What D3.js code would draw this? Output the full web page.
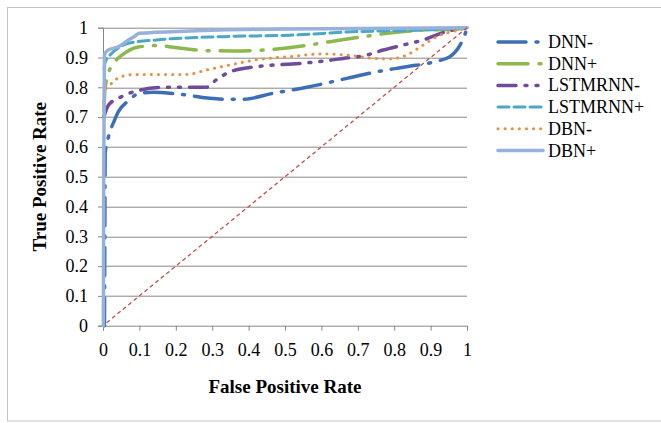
<!DOCTYPE html>
<html>
<head>
<meta charset="utf-8">
<script src="https://cdn.jsdelivr.net/npm/d3@7"></script>
<style>
  body { margin: 0; background: #fff; }
  text { font-family: "Liberation Serif", "Times New Roman", serif; fill: #000; }
</style>
</head>
<body>
<div id="chart"></div>
<script>
// ROC curves
var seriesNames = ["DNN-", "DNN+", "LSTMRNN-", "LSTMRNN+", "DBN-", "DBN+"];

var dnnMinusX = [0.004, 0.005, 0.006, 0.015, 0.03, 0.042, 0.07, 0.10, 0.138, 0.184, 0.23, 0.294, 0.34, 0.385, 0.468, 0.56, 0.67, 0.752, 0.834, 0.912, 0.953, 0.98, 0.995, 1];
var dnnMinusY = [0, 0.3, 0.58, 0.634, 0.685, 0.718, 0.755, 0.78, 0.783, 0.78, 0.774, 0.763, 0.76, 0.76, 0.78, 0.80, 0.83, 0.852, 0.869, 0.886, 0.903, 0.94, 0.98, 1];

var dnnPlusX = [0.003, 0.005, 0.015, 0.033, 0.065, 0.10, 0.147, 0.22, 0.285, 0.358, 0.44, 0.532, 0.624, 0.715, 0.807, 0.88, 0.97, 1];
var dnnPlusY = [0.72, 0.79, 0.847, 0.886, 0.919, 0.936, 0.94, 0.93, 0.923, 0.922, 0.925, 0.936, 0.953, 0.97, 0.985, 0.992, 0.995, 1];

var lstmMinusX = [0.002, 0.015, 0.05, 0.10, 0.166, 0.23, 0.284, 0.31, 0.349, 0.42, 0.54, 0.605, 0.66, 0.724, 0.77, 0.825, 0.88, 0.944, 1];
var lstmMinusY = [0.70, 0.74, 0.768, 0.79, 0.80, 0.80, 0.80, 0.824, 0.852, 0.869, 0.88, 0.888, 0.897, 0.908, 0.925, 0.942, 0.959, 0.987, 1];

var lstmPlusX = [0.003, 0.005, 0.024, 0.047, 0.07, 0.147, 0.33, 0.513, 0.70, 0.88, 1];
var lstmPlusY = [0.86, 0.88, 0.914, 0.936, 0.948, 0.959, 0.97, 0.975, 0.987, 0.992, 1];

var dbnMinusX = [0.002, 0.005, 0.019, 0.05, 0.092, 0.147, 0.23, 0.284, 0.349, 0.42, 0.513, 0.605, 0.687, 0.742, 0.788, 0.834, 0.88, 0.926, 0.97, 1];
var dbnMinusY = [0.75, 0.79, 0.808, 0.836, 0.843, 0.843, 0.843, 0.858, 0.875, 0.892, 0.903, 0.912, 0.906, 0.897, 0.895, 0.908, 0.942, 0.975, 0.99, 1];

var dbnPlusX = [0.001, 0.002, 0.004, 0.014, 0.042, 0.07, 0.088, 0.10, 0.24, 0.51, 1];
var dbnPlusY = [0, 0.5, 0.91, 0.925, 0.936, 0.959, 0.972, 0.981, 0.989, 0.996, 1];

// chance line
var diagX = [0.01, 1];
var diagY = [0.01, 1];

var xTicks = [0, 0.1, 0.2, 0.3, 0.4, 0.5, 0.6, 0.7, 0.8, 0.9, 1];
var yTicks = [0, 0.1, 0.2, 0.3, 0.4, 0.5, 0.6, 0.7, 0.8, 0.9, 1];

var svgWidth = 661;
var svgHeight = 423;

var margin = { top: 27.7, right: 194, bottom: 97.3, left: 103 };
var width = svgWidth - margin.left - margin.right;
var height = svgHeight - margin.top - margin.bottom;

var serif = "'Liberation Serif', 'Times New Roman', serif";

var svg = d3.select("#chart")
  .append("svg")
  .attr("width", svgWidth)
  .attr("height", svgHeight);

// outer frame (runs past the right edge)
svg.append("rect")
  .attr("x", 7.5)
  .attr("y", 7.5)
  .attr("width", 670)
  .attr("height", 413.5)
  .attr("fill", "none")
  .attr("stroke", "#c4c4c4")
  .attr("stroke-width", 1);

var chartGroup = svg.append("g")
  .attr("transform", `translate(${margin.left}, ${margin.top})`);

var xLinearScale = d3.scaleLinear().domain([0, 1]).range([0, width]);
var yLinearScale = d3.scaleLinear().domain([0, 1]).range([height, 0]);

// gridlines
chartGroup.append("g")
  .selectAll("line")
  .data(yTicks.slice(1))
  .join("line")
  .attr("x1", 0)
  .attr("x2", width)
  .attr("y1", d => Math.round(yLinearScale(d)) + 0.5)
  .attr("y2", d => Math.round(yLinearScale(d)) + 0.5)
  .attr("stroke", "#878787")
  .attr("stroke-width", 1);

// axes
var bottomAxis = d3.axisBottom(xLinearScale)
  .tickValues(xTicks)
  .tickSize(5)
  .tickPadding(13)
  .tickFormat(d => d3.format("")(d));
var leftAxis = d3.axisLeft(yLinearScale)
  .tickValues(yTicks)
  .tickSize(5)
  .tickPadding(10)
  .tickFormat(d => d3.format("")(d));

var xAxis = chartGroup.append("g")
  .attr("transform", `translate(0, ${height})`)
  .call(bottomAxis);
var yAxis = chartGroup.append("g")
  .call(leftAxis);

[xAxis, yAxis].forEach(function(ax) {
  ax.attr("font-family", serif).attr("font-size", 18);
  ax.select(".domain").attr("stroke", "#878787");
  ax.selectAll(".tick line").attr("stroke", "#878787");
  ax.selectAll(".tick text").attr("fill", "#000");
});

// series
var styles = [
  { color: "#3d6fb6", width: 3.5, dash: "28,10,2,10" },
  { color: "#8db84b", width: 3.5, dash: "30,11,2,11" },
  { color: "#6f4b9c", width: 3.5, dash: "18,9,2,9,2,9" },
  { color: "#4aa8c4", width: 3, dash: "11,5" },
  { color: "#f08c3e", width: 3, dash: "0.1,7" },
  { color: "#95b1dc", width: 3.5, dash: null }
];

var seriesX = [dnnMinusX, dnnPlusX, lstmMinusX, lstmPlusX, dbnMinusX, dbnPlusX];
var seriesY = [dnnMinusY, dnnPlusY, lstmMinusY, lstmPlusY, dbnMinusY, dbnPlusY];

var chartData = seriesNames.map(function(name, i) {
  return {
    name: name,
    style: styles[i],
    points: seriesX[i].map((x, j) => ({ fpr: x, tpr: seriesY[i][j] }))
  };
});

var line = d3.line()
  .x(d => xLinearScale(d.fpr))
  .y(d => yLinearScale(d.tpr))
  .curve(d3.curveMonotoneX);

chartGroup.append("g")
  .selectAll("path")
  .data(chartData)
  .join("path")
  .attr("d", d => line(d.points))
  .attr("fill", "none")
  .attr("stroke", d => d.style.color)
  .attr("stroke-width", d => d.style.width)
  .attr("stroke-dasharray", d => d.style.dash)
  .attr("stroke-linecap", "round")
  .attr("stroke-linejoin", "round");

// diagonal
chartGroup.append("path")
  .attr("d", d3.line()
    .x(d => xLinearScale(d.fpr))
    .y(d => yLinearScale(d.tpr))(diagX.map((x, j) => ({ fpr: x, tpr: diagY[j] }))))
  .attr("fill", "none")
  .attr("stroke", "#c0504d")
  .attr("stroke-width", 1.3)
  .attr("stroke-dasharray", "4,3");

// axis titles
svg.append("text")
  .attr("x", margin.left + width / 2)
  .attr("y", 393)
  .attr("text-anchor", "middle")
  .attr("font-weight", "bold")
  .attr("font-size", 19)
  .text("False Positive Rate");

svg.append("text")
  .attr("transform", `translate(46, ${margin.top + height / 2}) rotate(-90)`)
  .attr("text-anchor", "middle")
  .attr("font-weight", "bold")
  .attr("font-size", 19)
  .text("True Positive Rate");

// legend
var legend = svg.append("g")
  .attr("transform", "translate(498, 42)");

var legendItems = legend.selectAll("g")
  .data(chartData)
  .join("g")
  .attr("transform", (d, i) => `translate(0, ${i * 21.7})`);

legendItems.append("line")
  .attr("x1", 0)
  .attr("x2", 45)
  .attr("y1", 0)
  .attr("y2", 0)
  .attr("stroke", d => d.style.color)
  .attr("stroke-width", d => d.style.width)
  .attr("stroke-dasharray", d => d.style.dash)
  .attr("stroke-linecap", "round");

legendItems.append("text")
  .attr("x", 50)
  .attr("y", 6)
  .attr("font-size", 18)
  .text(d => d.name);
</script>
</body>
</html>
